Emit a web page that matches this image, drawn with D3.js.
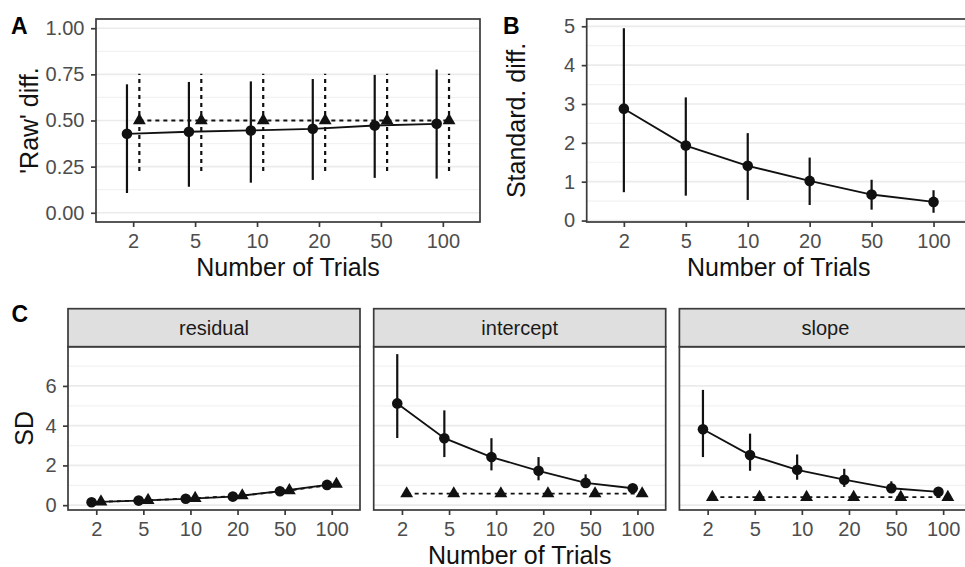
<!DOCTYPE html>
<meta charset="utf-8" />
<title>Number of trials</title>
<script src="https://d3js.org/d3.v7.min.js"></script>
<style>
  body { margin: 0; background: #fff; }
  svg { display: block; font-family: "Liberation Sans", Arial, sans-serif; }
</style>
<div id="chart"></div>
<script>
  // x categories (discrete)
  var trials = ["2", "5", "10", "20", "50", "100"];

  // A: 'raw' difference, estimate (circles) and true value (triangles)
  var rawEst = [0.428, 0.439, 0.446, 0.455, 0.473, 0.482];
  var rawLo = [0.107, 0.141, 0.163, 0.178, 0.189, 0.185];
  var rawHi = [0.696, 0.709, 0.712, 0.725, 0.747, 0.776];
  var rawTrue = [0.5, 0.5, 0.5, 0.5, 0.5, 0.5];
  var rawTrueLo = [0.227, 0.227, 0.227, 0.227, 0.227, 0.227];
  var rawTrueHi = [0.754, 0.754, 0.754, 0.754, 0.754, 0.754];

  // B: standardised difference
  var stdEst = [2.88, 1.93, 1.41, 1.02, 0.67, 0.48];
  var stdLo = [0.73, 0.64, 0.53, 0.4, 0.28, 0.2];
  var stdHi = [4.95, 3.17, 2.25, 1.62, 1.05, 0.78];

  // C: SD per component
  var facets = ["residual", "intercept", "slope"];
  var residEst = [0.15, 0.23, 0.32, 0.43, 0.7, 1.02];
  var residLo = [0.13, 0.21, 0.3, 0.41, 0.67, 0.98];
  var residHi = [0.17, 0.25, 0.34, 0.45, 0.73, 1.06];
  var residTrue = [0.17, 0.25, 0.35, 0.48, 0.74, 1.06];
  var interEst = [5.12, 3.37, 2.42, 1.73, 1.12, 0.85];
  var interLo = [3.38, 2.42, 1.75, 1.25, 0.95, 0.65];
  var interHi = [7.6, 4.77, 3.37, 2.42, 1.55, 1.05];
  var interTrue = [0.58, 0.58, 0.58, 0.58, 0.58, 0.58];
  var slopeEst = [3.82, 2.52, 1.78, 1.28, 0.85, 0.67];
  var slopeLo = [2.42, 1.73, 1.28, 0.92, 0.62, 0.55];
  var slopeHi = [5.8, 3.6, 2.55, 1.83, 1.2, 0.8];
  var slopeTrue = [0.4, 0.4, 0.4, 0.4, 0.4, 0.4];

  // axis breaks
  var breaksA = [0, 0.25, 0.5, 0.75, 1];
  var breaksB = [0, 1, 2, 3, 4, 5];
  var breaksC = [0, 2, 4, 6];

  var fontTick = 20;
  var fontTitle = 25;

  var svg = d3
    .select("#chart")
    .append("svg")
    .attr("width", 965)
    .attr("height", 567);

  // ggplot-like 5% expansion
  function expand(lo, hi) {
    var r = hi - lo;
    return [lo - 0.05 * r, hi + 0.05 * r];
  }

  // minor breaks halfway between majors, kept inside the domain
  function minorBreaks(major, dom) {
    var step = major[1] - major[0];
    var out = [];
    for (var v = major[0] - step / 2; v <= dom[1]; v += step) {
      if (v >= dom[0]) out.push(v);
    }
    return out;
  }

  function drawPanel(p) {
    var x = d3.scalePoint().domain(trials).range([p.x0, p.x1]).padding(0.6);
    var y = d3.scaleLinear().domain(p.domain).range([p.y1, p.y0]);
    var dodge = x.step() * 0.1;
    var g = svg.append("g");

    g.append("rect")
      .attr("x", p.x0).attr("y", p.y0)
      .attr("width", p.x1 - p.x0).attr("height", p.y1 - p.y0)
      .attr("fill", "#fff");

    // gridlines (horizontal only)
    g.selectAll(".minor")
      .data(minorBreaks(p.breaks, p.domain))
      .join("line")
      .attr("x1", p.x0).attr("x2", p.x1)
      .attr("y1", (d) => y(d)).attr("y2", (d) => y(d))
      .attr("stroke", "#f2f2f2").attr("stroke-width", 1.2);
    g.selectAll(".major")
      .data(p.breaks)
      .join("line")
      .attr("x1", p.x0).attr("x2", p.x1)
      .attr("y1", (d) => y(d)).attr("y2", (d) => y(d))
      .attr("stroke", "#ebebeb").attr("stroke-width", 1.7);

    p.series.forEach(function (s) {
      var off = s.dx * dodge;
      var pts = trials.map((t, i) => ({ t: t, v: s.est[i], lo: s.lo ? s.lo[i] : null, hi: s.hi ? s.hi[i] : null }));
      var dash = s.dashed ? "4,4" : null;

      g.append("path")
        .datum(pts)
        .attr("fill", "none")
        .attr("stroke", "#111")
        .attr("stroke-width", 1.8)
        .attr("stroke-dasharray", dash)
        .attr("d", d3.line().x((d) => x(d.t) + off).y((d) => y(d.v)));

      if (s.lo) {
        g.selectAll(null)
          .data(pts)
          .join("line")
          .attr("x1", (d) => x(d.t) + off).attr("x2", (d) => x(d.t) + off)
          .attr("y1", (d) => y(d.lo)).attr("y2", (d) => y(d.hi))
          .attr("stroke", "#111")
          .attr("stroke-width", 2.2)
          .attr("stroke-dasharray", dash);
      }

      if (s.shape === "circle") {
        g.selectAll(null)
          .data(pts)
          .join("circle")
          .attr("cx", (d) => x(d.t) + off).attr("cy", (d) => y(d.v))
          .attr("r", 5.3)
          .attr("fill", "#111");
      } else {
        g.selectAll(null)
          .data(pts)
          .join("path")
          .attr("transform", (d) => "translate(" + (x(d.t) + off) + "," + y(d.v) + ")")
          .attr("d", d3.symbol(d3.symbolTriangle, 72)())
          .attr("fill", "#111");
      }
    });

    g.append("rect")
      .attr("x", p.x0).attr("y", p.y0)
      .attr("width", p.x1 - p.x0).attr("height", p.y1 - p.y0)
      .attr("fill", "none")
      .attr("stroke", "#3a3a3a").attr("stroke-width", 1.7);

    // x axis
    var xa = g.append("g")
      .attr("transform", "translate(0," + p.y1 + ")")
      .call(d3.axisBottom(x).tickSize(5).tickPadding(7));
    styleAxis(xa);

    // y axis
    if (p.showY) {
      var ya = g.append("g")
        .attr("transform", "translate(" + p.x0 + ",0)")
        .call(d3.axisLeft(y).tickValues(p.breaks).tickFormat(p.fmt).tickSize(5).tickPadding(6.5));
      styleAxis(ya);
    }

    // facet strip
    if (p.strip) {
      g.append("rect")
        .attr("x", p.x0).attr("y", p.y0 - 38)
        .attr("width", p.x1 - p.x0).attr("height", 38)
        .attr("fill", "#dfdfdf")
        .attr("stroke", "#3a3a3a").attr("stroke-width", 1.7);
      g.append("text")
        .attr("x", (p.x0 + p.x1) / 2).attr("y", p.y0 - 19 + 7.2)
        .attr("text-anchor", "middle")
        .attr("font-size", fontTick)
        .attr("fill", "#1a1a1a")
        .text(p.strip);
    }
  }

  function styleAxis(a) {
    a.select(".domain").remove();
    a.selectAll(".tick line").attr("stroke", "#3a3a3a").attr("stroke-width", 1.7);
    a.selectAll(".tick text")
      .attr("font-size", fontTick)
      .attr("font-family", "Liberation Sans, Arial, sans-serif")
      .attr("fill", "#4d4d4d");
  }

  function title(x, y, txt, rot) {
    svg.append("text")
      .attr("transform", "translate(" + x + "," + y + ")" + (rot ? " rotate(-90)" : ""))
      .attr("text-anchor", "middle")
      .attr("font-size", fontTitle)
      .attr("fill", "#111")
      .text(txt);
  }

  function tag(x, y, txt) {
    svg.append("text")
      .attr("x", x).attr("y", y)
      .attr("font-size", 23)
      .attr("font-weight", "bold")
      .attr("fill", "#000")
      .text(txt);
  }

  // Panel A
  drawPanel({
    x0: 96, x1: 480, y0: 19, y1: 222,
    domain: expand(0, 1), breaks: breaksA, fmt: d3.format(".2f"), showY: true,
    series: [
      { est: rawEst, lo: rawLo, hi: rawHi, shape: "circle", dx: -1, dashed: false },
      { est: rawTrue, lo: rawTrueLo, hi: rawTrueHi, shape: "triangle", dx: 1, dashed: true }
    ]
  });
  title(288, 275.5, "Number of Trials");
  title(38, 120.5, "'Raw' diff.", true);
  tag(11, 34, "A");

  // Panel B
  drawPanel({
    x0: 586.7, x1: 970.7, y0: 19, y1: 222,
    domain: expand(d3.min(stdLo), d3.max(stdHi)), breaks: breaksB, fmt: d3.format("d"), showY: true,
    series: [{ est: stdEst, lo: stdLo, hi: stdHi, shape: "circle", dx: 0, dashed: false }]
  });
  title(778.7, 275.5, "Number of Trials");
  title(525, 120.5, "Standard. diff.", true);
  tag(503, 33.5, "B");

  // Panel C (shared y scale)
  var cAll = residLo.concat(interHi, slopeHi, residEst);
  var cDomain = expand(d3.min(cAll), d3.max(cAll));
  var cData = {
    residual: [residEst, residLo, residHi, residTrue],
    intercept: [interEst, interLo, interHi, interTrue],
    slope: [slopeEst, slopeLo, slopeHi, slopeTrue]
  };
  facets.forEach(function (f, i) {
    var left = 68 + i * 305.7;
    var d = cData[f];
    drawPanel({
      x0: left, x1: left + 292, y0: 346.7, y1: 510,
      domain: cDomain, breaks: breaksC, fmt: d3.format("d"), showY: i === 0, strip: f,
      series: [
        { est: d[0], lo: d[1], hi: d[2], shape: "circle", dx: -1, dashed: false },
        { est: d[3], lo: null, hi: null, shape: "triangle", dx: 1, dashed: true }
      ]
    });
  });
  title(519.7, 563.5, "Number of Trials");
  title(33, 428.3, "SD", true);
  tag(11.5, 321.7, "C");
</script>
